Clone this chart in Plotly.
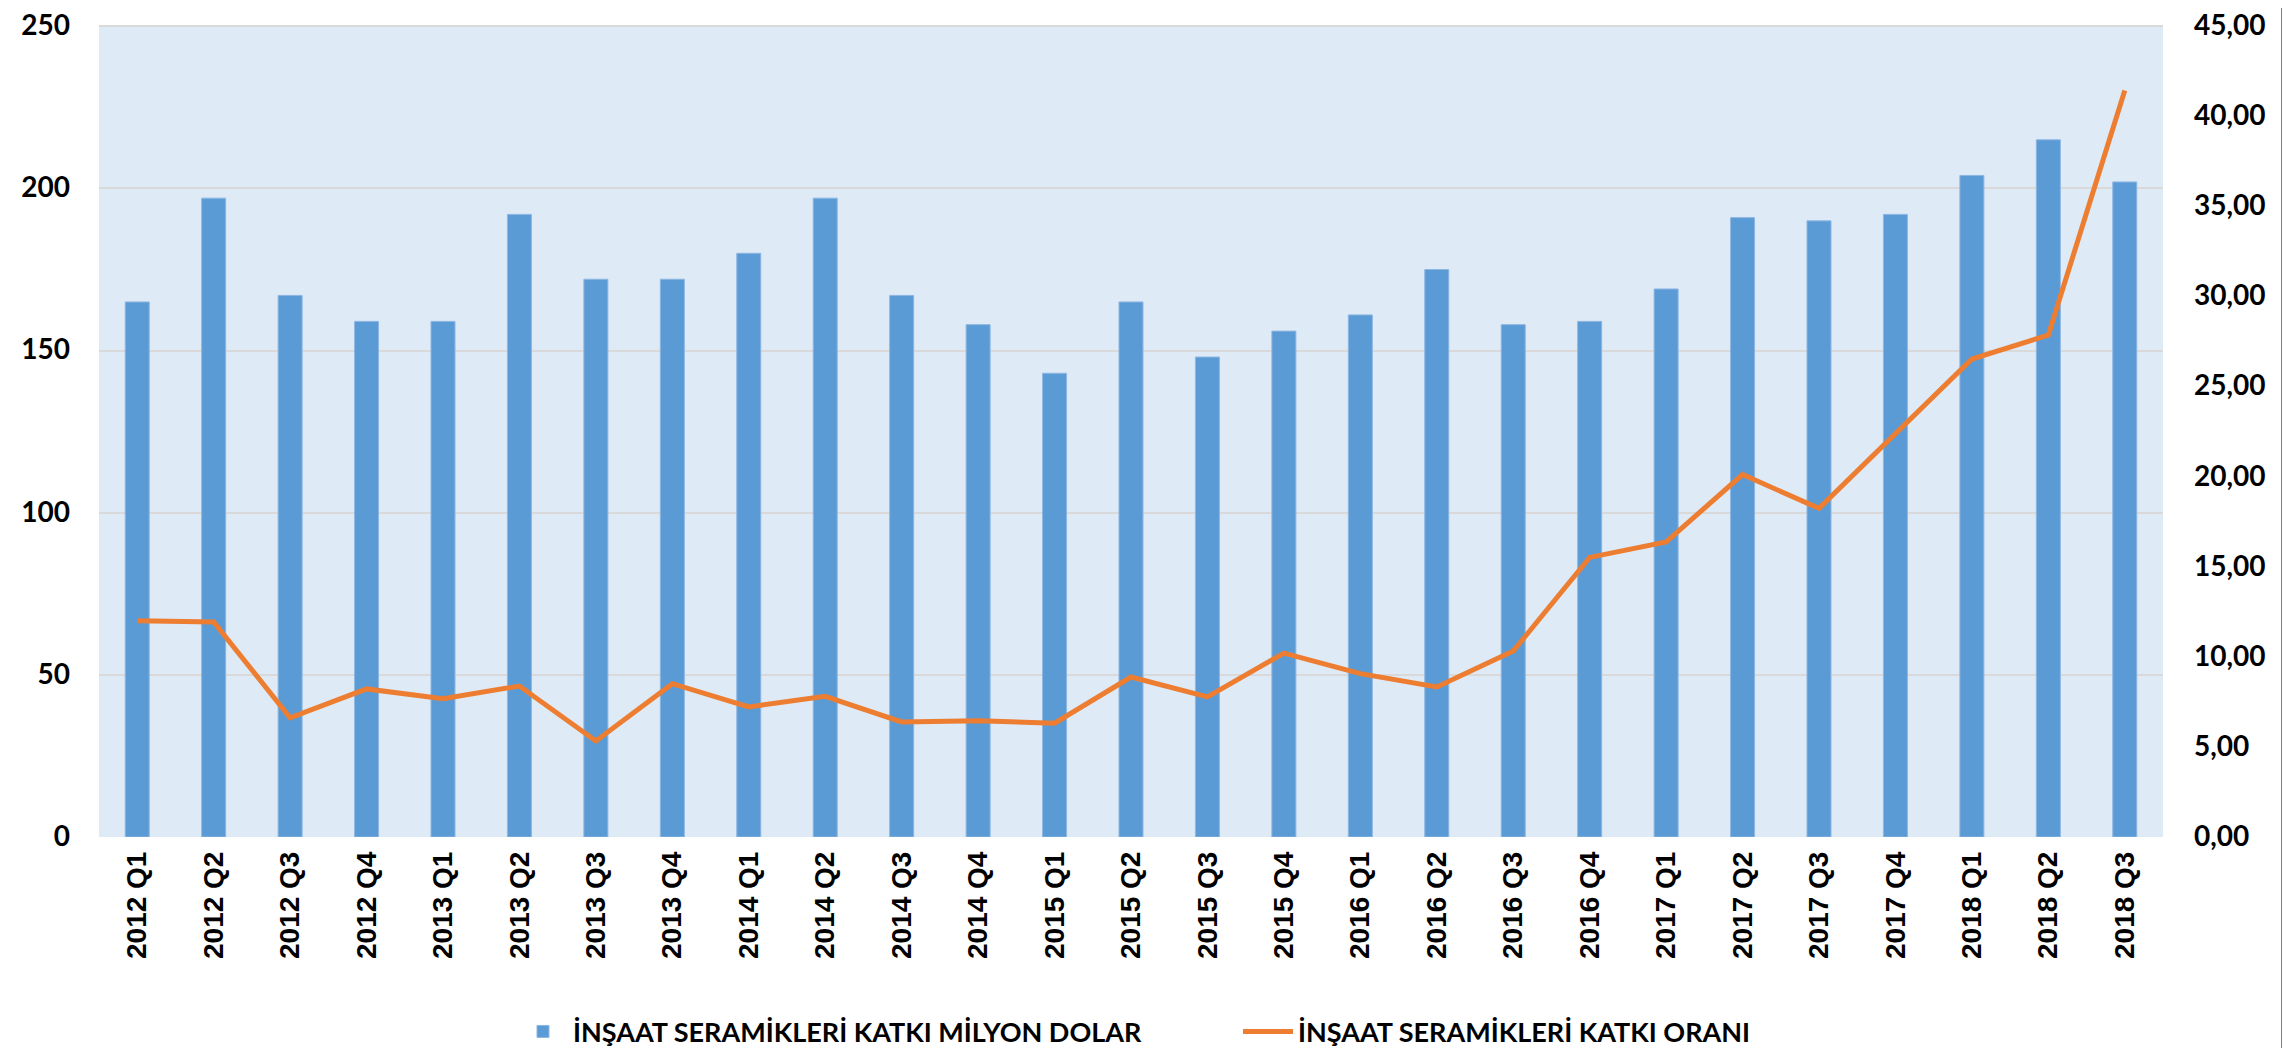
import plotly.graph_objects as go

categories = [
    "2012 Q1", "2012 Q2", "2012 Q3", "2012 Q4",
    "2013 Q1", "2013 Q2", "2013 Q3", "2013 Q4",
    "2014 Q1", "2014 Q2", "2014 Q3", "2014 Q4",
    "2015 Q1", "2015 Q2", "2015 Q3", "2015 Q4",
    "2016 Q1", "2016 Q2", "2016 Q3", "2016 Q4",
    "2017 Q1", "2017 Q2", "2017 Q3", "2017 Q4",
    "2018 Q1", "2018 Q2", "2018 Q3",
]
katki_milyon_dolar = [165, 197, 167, 159, 159, 192, 172, 172, 180, 197, 167, 158,
                      143, 165, 148, 156, 161, 175, 158, 159, 169, 191, 190, 192,
                      204, 215, 202]
katki_orani = [12.00, 11.94, 6.62, 8.22, 7.68, 8.38, 5.33, 8.51, 7.22, 7.81, 6.39, 6.45,
               6.32, 8.88, 7.78, 10.21, 9.07, 8.33, 10.32, 15.52, 16.38, 20.12, 18.24,
               22.40, 26.53, 27.86, 41.44]
left_ticks = [0, 50, 100, 150, 200, 250]
right_ticks = [0, 5, 10, 15, 20, 25, 30, 35, 40, 45]

W, H = 2290, 1048
ML, MR, MT, MB = 91, 135, 17, 219
PW = W - ML - MR
PH = H - MT - MB
PAD = 1.0016  # keeps the top tick/gridline just inside the plot area

fig = go.Figure()
fig.add_trace(go.Bar(
    x=categories, y=katki_milyon_dolar,
    name="İNŞAAT SERAMİKLERİ KATKI MİLYON DOLAR",
    marker=dict(color="#5B9BD5", line=dict(color="#8DB6E2", width=1)),
    yaxis="y",
))
fig.add_trace(go.Scatter(
    x=categories, y=katki_orani,
    name="İNŞAAT SERAMİKLERİ KATKI ORANI",
    mode="lines",
    line=dict(color="#ED7D31", width=5),
    yaxis="y2",
))

tickfont = dict(family="Lato", size=28, color="black", weight="bold")

fig.update_layout(
    width=W, height=H,
    margin=dict(l=ML, r=MR, t=MT, b=MB, autoexpand=False),
    paper_bgcolor="white",
    plot_bgcolor="#DEEAF6",
    separators=",.",
    bargap=0.686,
    showlegend=True,
    legend=dict(
        orientation="h",
        x=(505 - ML) / PW, xanchor="left",
        y=-0.24, yanchor="middle",
        font=dict(family="Lato", size=27, color="black", weight="bold"),
        itemwidth=50,
        entrywidth=660,
        entrywidthmode="pixels",
        bgcolor="rgba(0,0,0,0)",
    ),
    xaxis=dict(
        type="category",
        tickangle=-90,
        tickfont=dict(family="Liberation Sans", size=28, color="black", weight="bold"),
        showgrid=False,
        showline=False,
        ticks="",
        automargin=False,
        ticklabelstandoff=8,
    ),
    yaxis=dict(
        range=[0, 250 * PAD],
        tickvals=left_ticks,
        tickformat="d",
        tickfont=tickfont,
        ticklabeloverflow="allow",
        ticklabelshift=-1,
        showgrid=True,
        gridcolor="#D9D9D9",
        gridwidth=2,
        zeroline=False,
        showline=False,
        automargin=False,
        ticklabelstandoff=28,
    ),
    yaxis2=dict(
        range=[0, 45 * PAD],
        tickvals=right_ticks,
        tickformat=".2f",
        tickfont=tickfont,
        ticklabeloverflow="allow",
        ticklabelshift=-1,
        overlaying="y",
        side="right",
        showgrid=False,
        zeroline=False,
        showline=False,
        automargin=False,
        ticklabelstandoff=30,
    ),
    shapes=[
        dict(type="line", xref="paper", yref="paper",
             x0=(2275 - ML) / PW, x1=(2275 - ML) / PW,
             y0=(MT + PH) / PH, y1=-(MB) / PH - 0.01,
             line=dict(color="black", width=3)),
    ],
)

fig.write_html("out.html")
